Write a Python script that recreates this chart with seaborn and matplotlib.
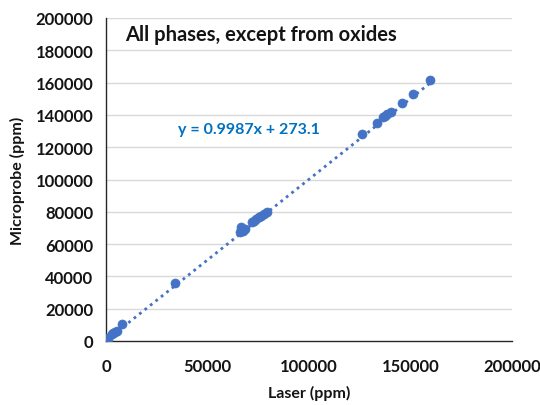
import matplotlib
matplotlib.use("Agg")
import matplotlib.pyplot as plt
import seaborn as sns
import numpy as np
import pandas as pd

laser = [300, 1000, 2800, 3500, 4400, 5500, 7700,
         34000,
         66000, 66300, 67600, 68500, 71800, 73000, 74000, 75200, 76500, 78000, 79200,
         126000, 133300, 136600, 137500, 138600, 140200, 145700, 151000, 159600]
microprobe = [1700, 1200, 4300, 5000, 5400, 6000, 10500,
              35700,
              67500, 70400, 68300, 69500, 73500, 74500, 75500, 76500, 77500, 78500, 79700,
              128200, 135000, 138500, 139500, 140600, 142000, 147200, 153000, 161600]
slope = 0.9987
intercept = 273.1
equation_label = "y = 0.9987x + 273.1"
title_text = "All phases, except from oxides"
x_ticks = [0, 50000, 100000, 150000, 200000]
y_ticks = list(range(0, 200001, 20000))

sns.set_theme(style="white")
plt.rcParams['font.family'] = ['Lato', 'DejaVu Sans']

fig = plt.figure(figsize=(5.4, 4.06), dpi=100)
ax = fig.add_axes([106/540, 1-342/406, (512-106)/540, (342-19)/406])

df = pd.DataFrame({"Laser (ppm)": laser, "Microprobe (ppm)": microprobe})
xs = np.array([min(laser), max(laser)])
line_df = pd.DataFrame({"x": xs, "y": slope * xs + intercept})
sns.lineplot(data=line_df, x="x", y="y", ax=ax, color="#4472C4", linestyle=(0, (1, 1.5)),
             linewidth=2.0, zorder=2)
sns.scatterplot(data=df, x="Laser (ppm)", y="Microprobe (ppm)", ax=ax, color="#4472C4",
                s=42, edgecolor="#4472C4", linewidth=0.5, zorder=3)

txt_col = "#141414"
ax.set_xlim(0, 200000)
ax.set_ylim(0, 200000)
ax.set_xticks(x_ticks)
ax.set_yticks(y_ticks)
ax.set_xticklabels([str(t) for t in x_ticks], fontsize=12, fontweight="bold", color=txt_col)
ax.set_yticklabels([str(t) for t in y_ticks], fontsize=12, fontweight="bold", color=txt_col)
for t in y_ticks[1:]:
    ax.axhline(t, color="#D9D9D9", linewidth=1, zorder=0)
for s in ["top", "right"]:
    ax.spines[s].set_visible(False)
for s in ["left", "bottom"]:
    ax.spines[s].set_color("#262626")
    ax.spines[s].set_linewidth(1.0)
ax.tick_params(axis="x", direction="in", length=5, width=1, color="#262626", pad=12)
ax.tick_params(axis="y", direction="inout", length=6, width=1, color="#262626", pad=6)
ax.set_xlabel("Laser (ppm)", fontsize=11.5, fontweight="bold", color=txt_col, labelpad=8)
ax.set_ylabel("Microprobe (ppm)", fontsize=11.5, fontweight="bold", color=txt_col, labelpad=8)

ax.text((125-106)/(512-106), 1-(35-19)/(342-19), title_text, transform=ax.transAxes,
        fontsize=14.5, fontweight="bold", color=txt_col, va="center", ha="left")
ax.text((178-106)/(512-106), 1-(130-19)/(342-19), equation_label, transform=ax.transAxes,
        fontsize=11.5, fontweight="bold", color="#0070C0", va="center", ha="left")

fig.savefig("out.png", dpi=100)
